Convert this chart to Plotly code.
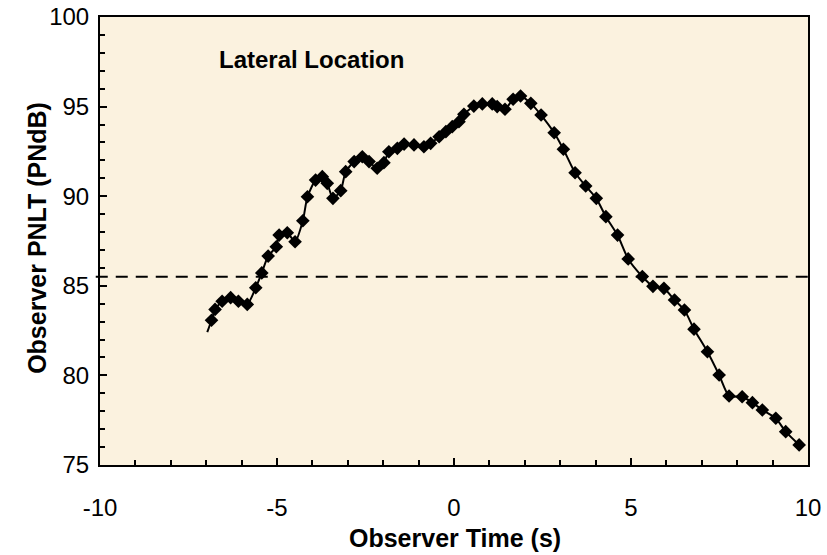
import plotly.graph_objects as go

# ---- data ----
time_s = [-6.85, -6.75, -6.55, -6.31, -6.09, -5.84, -5.60, -5.43, -5.25, -5.02,
          -4.94, -4.71, -4.49, -4.27, -4.14, -3.91, -3.72, -3.58, -3.42, -3.20,
          -3.06, -2.82, -2.59, -2.40, -2.17, -1.98, -1.84, -1.60, -1.41, -1.13,
          -0.85, -0.66, -0.42, -0.23, -0.05, 0.14, 0.28, 0.56, 0.80, 1.08,
          1.22, 1.44, 1.67, 1.88, 2.17, 2.46, 2.83, 3.09, 3.42, 3.72,
          4.02, 4.29, 4.62, 4.92, 5.32, 5.62, 5.93, 6.23, 6.51, 6.78,
          7.16, 7.49, 7.77, 8.14, 8.43, 8.71, 9.09, 9.37, 9.75]
pnlt = [83.08, 83.68, 84.14, 84.34, 84.14, 83.96, 84.89, 85.72, 86.66, 87.18,
        87.83, 87.96, 87.46, 88.63, 89.97, 90.90, 91.09, 90.72, 89.88, 90.31,
        91.37, 91.93, 92.20, 91.93, 91.56, 91.87, 92.48, 92.67, 92.91, 92.86,
        92.76, 92.95, 93.32, 93.60, 93.88, 94.16, 94.57, 95.03, 95.15, 95.15,
        95.00, 94.85, 95.41, 95.59, 95.18, 94.53, 93.54, 92.62, 91.31, 90.57,
        89.88, 88.86, 87.83, 86.50, 85.52, 84.97, 84.86, 84.21, 83.65, 82.58,
        81.32, 80.02, 78.85, 78.81, 78.48, 78.07, 77.61, 76.86, 76.12]
curve_start_t = [-6.97]
curve_start_pnlt = [82.41]
threshold_pnlt = 85.5
x_tick_vals = [-10, -5, 0, 5, 10]
x_tick_text = ["-10", "-5", "0", "5", "10"]
y_tick_vals = [75, 80, 85, 90, 95, 100]
y_tick_text = ["75", "80", "85", "90", "95", "100"]
label_text = "Lateral Location"
label_pos = (-6.69, 97.63)
x_title = "Observer Time (s)"
y_title = "Observer PNLT (PNdB)"

FONT = "Arial, 'Liberation Sans', Helvetica, sans-serif"

fig = go.Figure()

# smooth curve
fig.add_trace(go.Scatter(
    x=curve_start_t + time_s, y=curve_start_pnlt + pnlt,
    mode="lines", line=dict(color="black", width=2, shape="spline", smoothing=0.6),
    hoverinfo="skip", showlegend=False))
# data markers
fig.add_trace(go.Scatter(
    x=time_s, y=pnlt, mode="markers",
    marker=dict(symbol="diamond", size=10.5, color="black", line=dict(width=0)),
    showlegend=False))

# threshold dashed line
fig.add_shape(type="line", xref="paper", yref="y", x0=-0.006, x1=1,
              y0=threshold_pnlt, y1=threshold_pnlt,
              line=dict(color="black", width=2, dash="12px,8px"))

fig.add_annotation(x=label_pos[0], y=label_pos[1], xref="x", yref="y",
                   text="<b>" + label_text + "</b>", showarrow=False,
                   xanchor="left", yanchor="middle",
                   font=dict(family=FONT, size=24, color="black"))

# axis titles
fig.add_annotation(x=0.501, y=-0.164, xref="paper", yref="paper",
                   text="<b>" + x_title + "</b>", showarrow=False,
                   xanchor="center", yanchor="middle",
                   font=dict(family=FONT, size=25, color="black"))
fig.add_annotation(x=-0.089, y=0.507, xref="paper", yref="paper",
                   text="<b>" + y_title + "</b>", showarrow=False, textangle=-90,
                   xanchor="center", yanchor="middle",
                   font=dict(family=FONT, size=25, color="black"))

fig.update_layout(
    width=827, height=555,
    margin=dict(l=100, r=19, t=17, b=90, autoexpand=False),
    paper_bgcolor="white", plot_bgcolor="#FBF2DF",
    font=dict(family=FONT, color="black"),
    showlegend=False,
)
fig.update_xaxes(
    range=[-10, 10], tickvals=x_tick_vals, ticktext=x_tick_text,
    ticks="inside", ticklen=7, tickwidth=1.5, tickcolor="black",
    minor=dict(dtick=1, ticks="inside", ticklen=5, tickwidth=1.5, tickcolor="black"),
    showline=True, linecolor="black", linewidth=2, mirror=True,
    showgrid=False, zeroline=False, automargin=False,
    tickfont=dict(size=24, family=FONT), ticklabelstandoff=20,
)
fig.update_yaxes(
    range=[75, 100], tickvals=y_tick_vals, ticktext=y_tick_text,
    ticks="inside", ticklen=7, tickwidth=1.5, tickcolor="black",
    minor=dict(dtick=1, ticks="inside", ticklen=5, tickwidth=1.5, tickcolor="black"),
    showline=True, linecolor="black", linewidth=2, mirror=True,
    showgrid=False, zeroline=False, automargin=False,
    tickfont=dict(size=24, family=FONT), ticklabelstandoff=4,
)

fig.write_html("out.html")
